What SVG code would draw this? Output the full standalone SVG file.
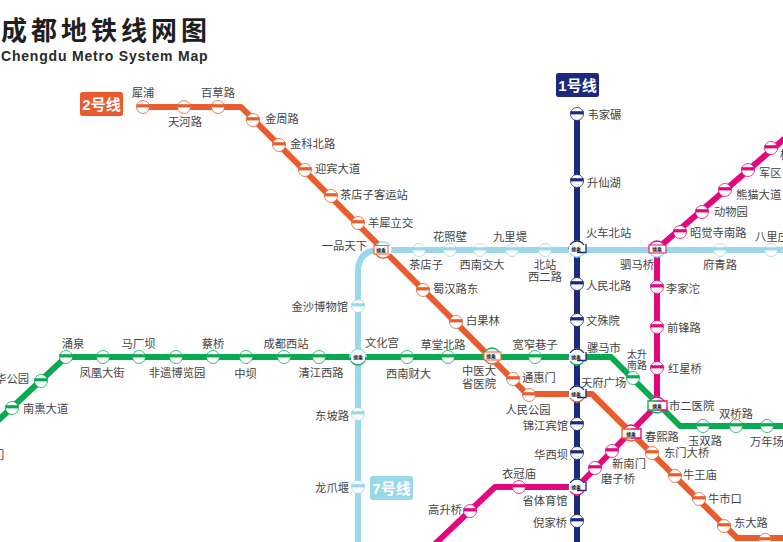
<svg xmlns="http://www.w3.org/2000/svg" width="783" height="542" viewBox="0 0 783 542">
<style>
text{font-family:"Liberation Sans","Noto Sans CJK SC",sans-serif}
.t{font-size:11.3px;fill:#444}
.m{text-anchor:middle}
.e{text-anchor:end}
.s{font-size:10px}
.ln{fill:none;stroke-linejoin:round}
.l1{stroke:#1b2a7b;stroke-width:6}
.l2{stroke:#e95c2d;stroke-width:6}
.l3{stroke:#09a950;stroke-width:6}
.l5{stroke:#e2067f;stroke-width:6}
.l7{stroke:#9ad7ea;stroke-width:6}
.c1{color:#1b2a7b}.c2{color:#e95c2d}.c3{color:#09a950}.c5{color:#e2067f}.c7{color:#9ad7ea}
.a{fill:none;stroke-width:1.3}
.r{fill:#fff;stroke-width:1}
.x{font-size:4.8px;font-weight:700;fill:#222;text-anchor:middle}
.b{font-size:15px;font-weight:700;fill:#fff;text-anchor:middle}
</style>
<defs>
<g id="st"><circle r="6.5" fill="#fff" stroke="currentColor" stroke-width="0.8"/><rect x="-6.5" y="-2.8" width="13" height="3.2" fill="currentColor"/></g>
</defs>
<g id="title">
<text x="1" y="40" font-size="26" font-weight="700" letter-spacing="4" fill="#1f1f1f">成都地铁线网图</text>
<text x="1" y="61" font-size="14" font-weight="700" letter-spacing="0.8" fill="#2a2a2a">Chengdu Metro System Map</text>
</g>
<g id="connectors">
<path class="ln l7" d="M358 542V272Q358 250 380 250H783"/>
<path class="ln l3" d="M-10 428L66 357H611L680 426H783"/>
<path class="ln l5" d="M434 545L495 487H577L657 405V249L790 134"/>
<path class="ln l2" d="M143 107H241L527 394H592L737 538H783"/>
<path class="ln l1" d="M577 114V542"/>
</g>
<g id="badge-1"><rect x="556" y="73" width="43" height="24" rx="2.5" fill="#1b2a7b"/><text class="b" x="577.500" y="90.500">1号线</text></g>
<g id="badge-2"><rect x="80" y="92" width="43" height="24" rx="2.5" fill="#e95c2d"/><text class="b" x="101.500" y="109.500">2号线</text></g>
<g id="badge-7"><rect x="370" y="476" width="43" height="24" rx="2.500" fill="#9ad7ea"/><text class="b" x="391.500" y="493.500">7号线</text></g>

<g id="l2-stations" class="c2">
<g id="s-xipu"><use href="#st" x="143" y="107"/><text class="t m" x="143" y="97">犀浦</text></g>
<g id="s-tianhe"><use href="#st" x="184" y="107"/><text class="t m" x="185" y="125.500">天河路</text></g>
<g id="s-baicao"><use href="#st" x="218" y="107"/><text class="t m" x="218" y="97">百草路</text></g>
<g id="s-jinzhou"><use href="#st" x="253" y="120"/><text class="t" x="265" y="123">金周路</text></g>
<g id="s-jinke"><use href="#st" x="279" y="145"/><text class="t" x="290" y="147.500">金科北路</text></g>
<g id="s-yingbin"><use href="#st" x="305" y="170"/><text class="t" x="315" y="173">迎宾大道</text></g>
<g id="s-chadiankeyun"><use href="#st" x="331" y="196"/><text class="t" x="340" y="198.500">茶店子客运站</text></g>
<g id="s-yangxi"><use href="#st" x="358" y="223"/><text class="t" x="368" y="226.500">羊犀立交</text></g>
<g id="s-shuhan"><use href="#st" x="423" y="290"/><text class="t" x="433" y="292.500">蜀汉路东</text></g>
<g id="s-baiguo"><use href="#st" x="456" y="322"/><text class="t" x="466" y="324.500">白果林</text></g>
<g id="s-tonghui"><use href="#st" x="513" y="379"/><text class="t" x="522" y="381.500">通惠门</text></g>
<g id="s-renmin"><use href="#st" x="529" y="395"/><text class="t m" x="528" y="413.500">人民公园</text></g>
<g id="s-dongmen"><use href="#st" x="652" y="453"/><text class="t" x="664" y="456.500">东门大桥</text></g>
<g id="s-niuwang"><use href="#st" x="675" y="476"/><text class="t" x="683" y="478.500">牛王庙</text></g>
<g id="s-niushi"><use href="#st" x="699" y="499"/><text class="t" x="708" y="502.500">牛市口</text></g>
<g id="s-dongda"><use href="#st" x="724" y="526"/><text class="t" x="734" y="526.500">东大路</text></g>
<g id="s-extra2"><use href="#st" x="765" y="540"/></g>
</g>

<g id="l1-stations" class="c1">
<g id="s-weijia"><use href="#st" x="577" y="114"/><text class="t" x="587.500" y="118.500">韦家碾</text></g>
<g id="s-shengxian"><use href="#st" x="577" y="181"/><text class="t" x="587" y="186.500">升仙湖</text></g>
<g id="s-renbei"><use href="#st" x="577" y="284"/><text class="t" x="586" y="289.500">人民北路</text></g>
<g id="s-wenshu"><use href="#st" x="577" y="320"/><text class="t" x="586" y="324.500">文殊院</text></g>
<g id="s-jinjiang"><use href="#st" x="577" y="424"/><text class="t e" x="568" y="429.500">锦江宾馆</text></g>
<g id="s-huaxi"><use href="#st" x="577" y="453"/><text class="t e" x="568" y="458.500">华西坝</text></g>
<g id="s-nijia"><use href="#st" x="577" y="521"/><text class="t e" x="567" y="526.500">倪家桥</text></g>
</g>

<g id="l3-stations" class="c3">
<g id="s-nanxun"><use href="#st" x="12" y="408"/><text class="t" x="23" y="412.500">南熏大道</text></g>
<g id="s-huanhua"><use href="#st" x="41" y="381"/><text class="t e" x="29" y="383">华公园</text></g>
<g id="s-clip"><text class="t" x="-7" y="459">门</text></g>
<g id="s-yongquan"><use href="#st" x="66" y="357"/><text class="t m" x="73" y="347.500">涌泉</text></g>
<g id="s-fenghuang"><use href="#st" x="103" y="357"/><text class="t m" x="102" y="376.500">凤凰大街</text></g>
<g id="s-machang"><use href="#st" x="139" y="357"/><text class="t m" x="138.500" y="347.500">马厂坝</text></g>
<g id="s-feiyi"><use href="#st" x="176" y="357"/><text class="t m" x="177" y="376.500">非遗博览园</text></g>
<g id="s-caiqiao"><use href="#st" x="213" y="357"/><text class="t m" x="213" y="347.500">蔡桥</text></g>
<g id="s-zhongba"><use href="#st" x="246" y="357"/><text class="t m" x="245.500" y="378">中坝</text></g>
<g id="s-chengxi"><use href="#st" x="284" y="357"/><text class="t m" x="286" y="347.500">成都西站</text></g>
<g id="s-qingjiang"><use href="#st" x="319" y="357"/><text class="t m" x="321" y="377">清江西路</text></g>
<g id="s-xinan"><use href="#st" x="407" y="357"/><text class="t m" x="408.500" y="377.500">西南财大</text></g>
<g id="s-caotang"><use href="#st" x="448" y="357"/><text class="t m" x="443" y="348.500">草堂北路</text></g>
<g id="s-kuanzhai"><use href="#st" x="535" y="357"/><text class="t m" x="535" y="348.500">宽窄巷子</text></g>
<g id="s-taisheng"><use href="#st" x="633" y="378"/><text class="t m s" x="637" y="358">太升</text><text class="t m s" x="637" y="369">南路</text></g>
<g id="s-yushuang"><use href="#st" x="703" y="426"/><text class="t m" x="705" y="444.500">玉双路</text></g>
<g id="s-shuangqiao"><use href="#st" x="736" y="426"/><text class="t m" x="736" y="417.500">双桥路</text></g>
<g id="s-wannian"><use href="#st" x="767" y="426"/><text class="t" x="750" y="445.500">万年场</text></g>
</g>

<g id="l5-stations" class="c5">
<g id="s-gaosheng"><use href="#st" x="470" y="511"/><text class="t e" x="462" y="513.500">高升桥</text></g>
<g id="s-yiguan"><use href="#st" x="519" y="487"/><text class="t m" x="519" y="477.500">衣冠庙</text></g>
<g id="s-mozi"><use href="#st" x="595" y="468"/><text class="t m" x="618" y="482.500">磨子桥</text></g>
<g id="s-xinnan"><use href="#st" x="612" y="451"/><text class="t m" x="629" y="467.500">新南门</text></g>
<g id="s-hongxing"><use href="#st" x="657" y="368"/><text class="t" x="668" y="372.500">红星桥</text></g>
<g id="s-qianfeng"><use href="#st" x="657" y="327"/><text class="t" x="667" y="331.500">前锋路</text></g>
<g id="s-lijia"><use href="#st" x="657" y="287"/><text class="t" x="666" y="292.500">李家沱</text></g>
<g id="s-zhaojue"><use href="#st" x="680" y="232"/><text class="t" x="690" y="236.500">昭觉寺南路</text></g>
<g id="s-dongwu"><use href="#st" x="702" y="212"/><text class="t" x="714" y="215.500">动物园</text></g>
<g id="s-xiongmao"><use href="#st" x="725" y="190"/><text class="t" x="736" y="198.500">熊猫大道</text></g>
<g id="s-junqu"><use href="#st" x="748" y="170"/><text class="t" x="759" y="177">军区</text></g>
<g id="s-gui"><use href="#st" x="771" y="148"/><text class="t" x="780" y="159">桂</text></g>
</g>

<g id="l7-stations" class="c7">
<g id="s-jinsha"><use href="#st" x="358" y="306"/><text class="t e" x="348" y="310.500">金沙博物馆</text></g>
<g id="s-dongpo"><use href="#st" x="358" y="414"/><text class="t e" x="349" y="419.500">东坡路</text></g>
<g id="s-longzhao"><use href="#st" x="358" y="487"/><text class="t e" x="349" y="491.500">龙爪堰</text></g>
<g id="s-chadian"><use href="#st" x="419" y="250"/><text class="t m" x="426" y="268.500">茶店子</text></g>
<g id="s-huazhao"><use href="#st" x="450" y="250"/><text class="t m" x="450" y="240.500">花照壁</text></g>
<g id="s-xijiao"><use href="#st" x="480" y="250"/><text class="t m" x="482" y="269">西南交大</text></g>
<g id="s-jiuli"><use href="#st" x="512" y="250"/><text class="t m" x="510" y="240.500">九里堤</text></g>
<g id="s-beizhan"><use href="#st" x="545" y="250"/><text class="t m" x="545" y="269">北站</text><text class="t m" x="545" y="281">西二路</text></g>
<g id="s-fuqing"><use href="#st" x="720" y="250"/><text class="t m" x="720" y="268.500">府青路</text></g>
<g id="s-bali"><use href="#st" x="771" y="250"/><text class="t" x="755" y="240.500">八里庄</text></g>
</g>

<g id="x-yipin"><circle cx="383" cy="250" r="8.500" fill="#fff"/><path class="a" d="M376 254A8 8 0 0 1 390 246" stroke="#9ad7ea"/><path class="a" d="M376 254A8 8 0 0 0 390 254" stroke="#e95c2d"/><rect class="r" x="374" y="245.500" width="14" height="8.500" stroke="#e95c2d"/><text class="x" x="381" y="251.500">换乘</text><text class="t e" x="367" y="250">一品天下</text></g>
<g id="x-wenhua"><circle cx="358" cy="357" r="8.500" fill="#fff"/><path class="a" d="M350 357A8 8 0 0 1 366 357" stroke="#9ad7ea"/><path class="a" d="M350 357A8 8 0 0 0 366 357" stroke="#09a950"/><rect x="351" y="353" width="14" height="8" fill="#fff"/><text class="x" x="358" y="359">换乘</text><text class="t" x="365" y="346.500">文化宫</text></g>
<g id="x-zhongyi"><circle cx="492" cy="356" r="8.500" fill="#fff"/><path class="a" d="M484 356A8 8 0 0 1 500 356" stroke="#09a950"/><path class="a" d="M484 356A8 8 0 0 0 500 356" stroke="#e95c2d"/><rect class="r" x="484" y="352" width="17" height="8" stroke="#e95c2d"/><text class="x" x="491" y="358">换乘</text><text class="t m" x="479" y="375">中医大</text><text class="t m" x="479" y="387.500">省医院</text></g>
<g id="x-huochebei"><circle cx="577" cy="249" r="8.500" fill="#fff"/><path class="a" d="M569 249A8 8 0 0 1 585 249" stroke="#1b2a7b"/><path class="a" d="M569 249A8 8 0 0 0 585 249" stroke="#9ad7ea"/><rect x="569" y="245" width="17" height="8" fill="#fff"/><path class="a" d="M586 244V252.500H577" stroke="#1b2a7b"/><text class="x" x="576" y="251">换乘</text><text class="t" x="586" y="236.500">火车北站</text></g>
<g id="x-sima"><circle cx="657" cy="249" r="8.500" fill="#fff"/><path class="a" d="M649 249A8 8 0 0 1 665 249" stroke="#e2067f"/><path class="a" d="M649 249A8 8 0 0 0 665 249" stroke="#9ad7ea"/><rect class="r" x="649" y="245" width="17" height="8" stroke="#e2067f"/><text class="x" x="657" y="251">换乘</text><text class="t e" x="654" y="268.500">驷马桥</text></g>
<g id="x-luoma"><circle cx="577" cy="357" r="8.500" fill="#fff"/><path class="a" d="M569 357A8 8 0 0 1 585 357" stroke="#1b2a7b"/><path class="a" d="M569 357A8 8 0 0 0 585 357" stroke="#09a950"/><rect x="569" y="353" width="17" height="8" fill="#fff"/><path class="a" d="M586 352V360.500H577" stroke="#1b2a7b"/><text class="x" x="576" y="359">换乘</text><text class="t" x="587" y="351.500">骡马市</text></g>
<g id="x-tianfu"><circle cx="577" cy="394" r="8.500" fill="#fff"/><path class="a" d="M569 394A8 8 0 0 1 585 394" stroke="#1b2a7b"/><path class="a" d="M569 394A8 8 0 0 0 585 394" stroke="#e95c2d"/><rect x="569" y="390" width="17" height="8" fill="#fff"/><path class="a" d="M586 389V397.500H577" stroke="#1b2a7b"/><text class="x" x="576" y="396">换乘</text><text class="t" x="581" y="386.500">天府广场</text></g>
<g id="x-shier"><circle cx="657" cy="405" r="8.500" fill="#fff"/><path class="a" d="M649 405A8 8 0 0 1 665 405" stroke="#e2067f"/><path class="a" d="M649 405A8 8 0 0 0 665 405" stroke="#09a950"/><rect x="648" y="401" width="19" height="9" fill="#fff"/><path class="a" d="M657 401H648V410H657" stroke="#09a950"/><path class="a" d="M657 401H667V410H657" stroke="#e2067f"/><text class="x" x="657" y="407.500">换乘</text><text class="t" x="669" y="409.500">市二医院</text></g>
<g id="x-chunxi"><circle cx="631" cy="433" r="8.500" fill="#fff"/><path class="a" d="M623 433A8 8 0 0 1 639 433" stroke="#e2067f"/><path class="a" d="M623 433A8 8 0 0 0 639 433" stroke="#e95c2d"/><rect x="622" y="429" width="19" height="9" fill="#fff"/><path class="a" d="M631 429H622V438H631" stroke="#e95c2d"/><path class="a" d="M631 429H641V438H631" stroke="#e2067f"/><text class="x" x="631" y="435.500">换乘</text><text class="t" x="645" y="440.500">春熙路</text></g>
<g id="x-shengti"><circle cx="577" cy="487" r="8.500" fill="#fff"/><path class="a" d="M569 487A8 8 0 0 1 585 487" stroke="#1b2a7b"/><path class="a" d="M569 487A8 8 0 0 0 585 487" stroke="#e2067f"/><rect x="569" y="483" width="17" height="8" fill="#fff"/><path class="a" d="M586 482V490.500H577" stroke="#1b2a7b"/><text class="x" x="576" y="489">换乘</text><text class="t m" x="545" y="504.500">省体育馆</text></g>
</svg>
